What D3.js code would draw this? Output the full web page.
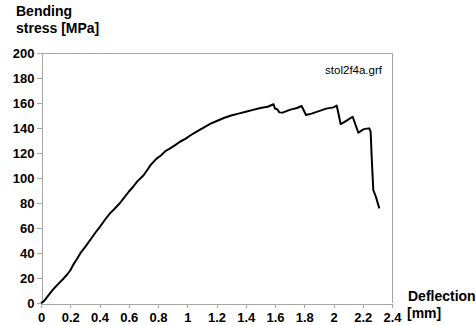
<!DOCTYPE html>
<html lang="en">
  <head>
    <meta charset="utf-8">
    <title>Bending stress vs deflection</title>
    <style>
      body { margin: 0; background: #fff; }
      svg { display: block; font-family: "Liberation Sans", Arial, sans-serif; }
      .axis path, .axis line { stroke: #a6a6a6; shape-rendering: crispEdges; }
      .axis text { font-size: 13px; font-weight: bold; fill: #000; }
      .title { font-size: 14px; font-weight: bold; fill: #000; }
      .frame { stroke: #a6a6a6; fill: none; shape-rendering: crispEdges; }
    </style>
  </head>
  <body>
    <svg id="chart" width="476" height="325"></svg>
    <script src="https://d3js.org/d3.v7.min.js"></script>
    <script>
      // measured curve, deflection [mm] vs bending stress [MPa]
      const deflection = [0, 0.02, 0.04, 0.06, 0.08, 0.10, 0.12, 0.15, 0.18, 0.20,
        0.22, 0.25, 0.27, 0.30, 0.34, 0.37, 0.40, 0.44, 0.47, 0.50,
        0.54, 0.57, 0.60, 0.63, 0.66, 0.70, 0.73, 0.75, 0.79, 0.82,
        0.85, 0.88, 0.92, 0.95, 0.99, 1.02, 1.07, 1.10, 1.13, 1.16,
        1.19, 1.21, 1.25, 1.30, 1.35, 1.40, 1.45, 1.50, 1.55, 1.59,
        1.60, 1.615, 1.63, 1.652, 1.70, 1.75, 1.782, 1.812, 1.85, 1.90,
        1.95, 2.00, 2.022, 2.049, 2.07, 2.09, 2.131, 2.17, 2.204, 2.225,
        2.245, 2.254, 2.261, 2.272, 2.29, 2.313];
      const stress = [0, 1.5, 4.5, 7.5, 10.5, 13, 15.5, 19, 23, 26,
        30.5, 36, 40, 44.5, 51, 56, 60.5, 67, 71.5, 75,
        80, 84.5, 89, 93, 97.5, 102, 107, 110.5, 115.5, 118,
        121.5, 123.5, 126.5, 129, 131.5, 134, 137.5, 139.5, 141.5, 143.5,
        145, 146, 148, 150, 151.5, 153, 154.5, 156, 157, 159,
        155.5, 155, 152.5, 152.3, 154.5, 156, 157.6, 150.4, 151.5, 153.5,
        155.5, 156.5, 158, 143.2, 144.5, 145.9, 149, 136.2, 138.9, 139.5,
        139.7, 137, 117, 90.4, 85, 75.7];
      const xTicks = [0, 0.2, 0.4, 0.6, 0.8, 1, 1.2, 1.4, 1.6, 1.8, 2, 2.2, 2.4];
      const yTicks = [0, 20, 40, 60, 80, 100, 120, 140, 160, 180, 200];

      var svg = d3.select("svg");
      const LEFT = 41, RIGHT = 392, TOP = 53, BOTTOM = 303;

      var x = d3.scaleLinear().domain([0, 2.4]).range([LEFT, RIGHT]);
      var y = d3.scaleLinear().domain([0, 200]).range([BOTTOM, TOP]);

      // top and right border
      svg.append("path")
        .attr("class", "frame")
        .attr("d", "M" + LEFT + "," + (TOP + 0.5) + "H" + (RIGHT + 0.5) + "V" + BOTTOM);

      svg.append("g")
        .attr("class", "axis")
        .attr("transform", "translate(0," + (BOTTOM + 0.5) + ")")
        .call(d3.axisBottom(x).tickValues(xTicks).tickSize(4).tickSizeOuter(0)
          .tickFormat(d3.format("~g")))
        .call(g => g.selectAll("text").attr("y", 9));

      svg.append("g")
        .attr("class", "axis")
        .attr("transform", "translate(" + (LEFT + 0.5) + ",0)")
        .call(d3.axisLeft(y).tickValues(yTicks).tickSize(5).tickSizeOuter(0))
        .call(g => g.selectAll("text").attr("x", -7));

      var pts = deflection.map((d, i) => [d, stress[i]]);
      svg.append("path")
        .datum(pts)
        .attr("fill", "none")
        .attr("stroke", "#000")
        .attr("stroke-width", 2)
        .attr("stroke-linejoin", "round")
        .attr("d", d3.line().x(d => x(d[0])).y(d => y(d[1])));

      svg.append("text").attr("class", "title").attr("x", 16).attr("y", 16).text("Bending");
      svg.append("text").attr("class", "title").attr("x", 16).attr("y", 33).text("stress [MPa]");
      svg.append("text").attr("class", "title").attr("x", 408).attr("y", 301).text("Deflection");
      svg.append("text").attr("class", "title").attr("x", 407).attr("y", 318).text("[mm]");

      svg.append("text")
        .attr("x", 382).attr("y", 74)
        .attr("text-anchor", "end")
        .style("font-size", "11.5px")
        .text("stol2f4a.grf");
    </script>
  </body>
</html>
